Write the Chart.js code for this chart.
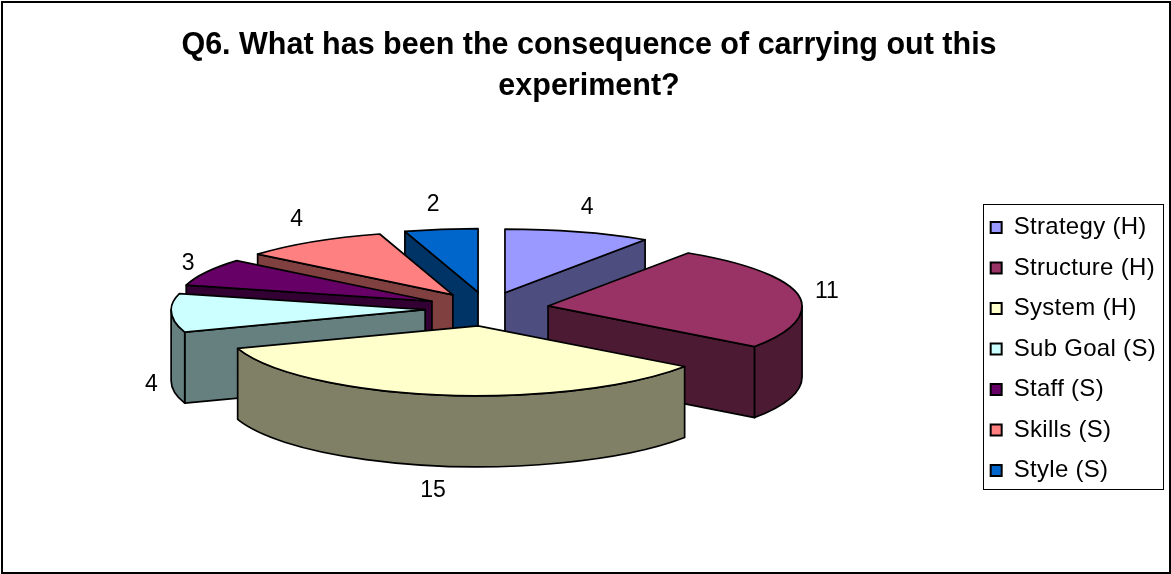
<!DOCTYPE html>
<html>
<head>
<meta charset="utf-8">
<style>
  html, body { margin: 0; padding: 0; background: #fff; }
  canvas { display: block; }
</style>
<script src="https://cdn.jsdelivr.net/npm/chart.js@4/dist/chart.umd.js"></script>
</head>
<body>
<canvas id="pie" width="1171" height="574"></canvas>
<script>
const categories = ['Strategy (H)', 'Structure (H)', 'System (H)', 'Sub Goal (S)', 'Staff (S)', 'Skills (S)', 'Style (S)'];
const values = [4, 11, 15, 4, 3, 4, 2];
const topColors = ['#9999FF', '#993366', '#FFFFCC', '#CCFFFF', '#660066', '#FF8080', '#0066CC'];
const wallColors = ['#4D4D80', '#4D1A33', '#808066', '#668080', '#330033', '#804040', '#003366'];
const titleLines = ['Q6. What has been the consequence of carrying out this', 'experiment?'];

// nudge of each value label away from the rim of its slice
const labelNudge = [[9, -24], [29, -3], [-8, 96], [-20, 72], [-18, -9], [-16, -22], [-8, -25]];

const FONT = '"Liberation Sans", Arial, sans-serif';
const squash = 0.275;
const backSquash = 0.25; // far half of the pie looks flatter, like the perspective in Excel
const depth = 71;
const pieShiftX = -6;
const pieShiftY = -40;
const legendSpacing = '0.3px';

const squashAt = a => (Math.sin(a) < 0 ? backSquash : squash);

// adds the rim from a0 to a1, split where the near and far half meet
function addRim(ctx, s, a0, a1, dy) {
    const cuts = [a0];
    for (let k = Math.ceil(a0 / Math.PI); k * Math.PI < a1; k++) {
        if (k * Math.PI > a0) cuts.push(k * Math.PI);
    }
    cuts.push(a1);
    for (let n = 0; n < cuts.length - 1; n++) {
        const ry = s.r * squashAt((cuts[n] + cuts[n + 1]) / 2);
        ctx.ellipse(s.cx, s.cy + dy, s.r, ry, 0, cuts[n], cuts[n + 1]);
    }
}

// the fake 3d pie: library computes the arcs, we only flatten them and add walls
const pie3d = {
    id: 'pie3d',
    beforeLayout(chart) {
        chart.ctx.letterSpacing = legendSpacing;
    },
    afterLayout(chart) {
        const ctx = chart.ctx;
        ctx.letterSpacing = '0px';
        const lg = chart.legend;
        if (!lg._spaced) {
            const draw = lg.draw;
            lg.draw = function () {
                ctx.save();
                ctx.letterSpacing = legendSpacing;
                draw.call(lg);
                ctx.restore();
            };
            lg._spaced = true;
        }
    },
    beforeDraw(chart) {
        const ctx = chart.ctx;
        ctx.save();
        ctx.fillStyle = '#fff';
        ctx.fillRect(0, 0, chart.width, chart.height);
        ctx.strokeStyle = '#000';
        ctx.lineWidth = 2;
        ctx.strokeRect(2, 2, chart.width - 3, chart.height - 3);
        ctx.restore();
    },
    beforeDatasetDraw(chart, args) {
        const ctx = chart.ctx;
        const arcs = args.meta.data.map((arc, i) => {
            const mid = (arc.startAngle + arc.endAngle) / 2;
            const off = arc.options.offset;
            return {
                i, arc, mid,
                r: arc.outerRadius,
                cx: arc.x + pieShiftX + Math.cos(mid) * off,
                cy: arc.y + pieShiftY + Math.sin(mid) * off * squash
            };
        });
        arcs.sort((a, b) => Math.sin(a.mid) - Math.sin(b.mid));

        ctx.save();
        ctx.strokeStyle = '#000';
        ctx.lineWidth = 1.7;
        ctx.lineJoin = 'round';
        arcs.forEach(s => {
            const a0 = s.arc.startAngle;
            const a1 = s.arc.endAngle;
            const paint = color => { ctx.fillStyle = color; ctx.fill(); ctx.stroke(); };
            const face = a => {
                const ex = s.cx + Math.cos(a) * s.r;
                const ey = s.cy + Math.sin(a) * s.r * squashAt(a);
                ctx.beginPath();
                ctx.moveTo(s.cx, s.cy);
                ctx.lineTo(ex, ey);
                ctx.lineTo(ex, ey + depth);
                ctx.lineTo(s.cx, s.cy + depth);
                ctx.closePath();
                paint(wallColors[s.i]);
            };
            if (Math.cos(a0) < 0) face(a0);
            if (Math.cos(a1) > 0) face(a1);
            // rim, only the part facing the viewer
            [0, 2 * Math.PI].forEach(shift => {
                const lo = Math.max(a0, shift);
                const hi = Math.min(a1, Math.PI + shift);
                if (hi <= lo) return;
                ctx.beginPath();
                ctx.ellipse(s.cx, s.cy, s.r, s.r * squash, 0, lo, hi);
                ctx.ellipse(s.cx, s.cy + depth, s.r, s.r * squash, 0, hi, lo, true);
                ctx.closePath();
                paint(wallColors[s.i]);
            });
            ctx.beginPath();
            ctx.moveTo(s.cx, s.cy);
            addRim(ctx, s, a0, a1, 0);
            ctx.closePath();
            paint(topColors[s.i]);
        });

        ctx.fillStyle = '#000';
        ctx.font = '23px ' + FONT;
        ctx.textAlign = 'center';
        ctx.textBaseline = 'middle';
        arcs.forEach(s => {
            const x = s.cx + Math.cos(s.mid) * s.r + labelNudge[s.i][0];
            const y = s.cy + Math.sin(s.mid) * s.r * squashAt(s.mid) + labelNudge[s.i][1];
            ctx.fillText(String(values[s.i]), x, y);
        });
        ctx.restore();
        return false;
    },
    afterDraw(chart) {
        const ctx = chart.ctx;
        const first = chart.legend.legendHitBoxes[0];
        ctx.save();
        ctx.strokeStyle = '#000';
        ctx.lineWidth = 1;
        ctx.strokeRect(Math.round(first.left) - 7.5, Math.round(first.top) - 11.5, 180, 285);
        ctx.restore();
    }
};

new Chart(document.getElementById('pie'), {
    type: 'pie',
    data: {
        labels: categories,
        datasets: [{
            data: values,
            backgroundColor: topColors,
            borderColor: '#000',
            borderWidth: 2,
            offset: 62,
            radius: 254
        }]
    },
    plugins: [pie3d],
    options: {
        responsive: false,
        animation: false,
        layout: { padding: { left: 12, right: 5, top: 0, bottom: 0 } },
        plugins: {
            tooltip: { enabled: false },
            title: {
                display: true,
                text: titleLines,
                color: '#000',
                font: { family: FONT, size: 30.5, weight: 'bold', lineHeight: 1.345 },
                padding: { top: 25, bottom: 17 }
            },
            legend: {
                position: 'right',
                fullSize: false,
                labels: {
                    color: '#000',
                    font: { family: FONT, size: 24 },
                    boxWidth: 11,
                    boxHeight: 11,
                    padding: 16.5
                }
            }
        }
    }
});
</script>
</body>
</html>
